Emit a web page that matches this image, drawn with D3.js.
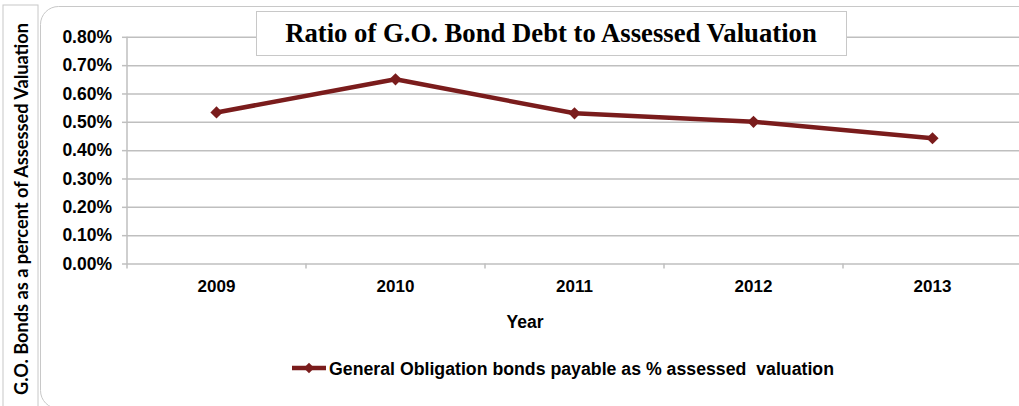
<!DOCTYPE html>
<html>
<head>
<meta charset="utf-8">
<script src="https://cdn.jsdelivr.net/npm/d3@7"></script>
<style>
  body { margin: 0; background: #fff; }
  svg { display: block; }
</style>
</head>
<body>
<div id="chart"></div>
<script>
const years = ["2009", "2010", "2011", "2012", "2013"];
const ratios = [0.00533, 0.0065, 0.0053, 0.0050, 0.00442];
const yTicks = [0, 0.001, 0.002, 0.003, 0.004, 0.005, 0.006, 0.007, 0.008];
const seriesName = "General Obligation bonds payable as % assessed  valuation";
const chartTitle = "Ratio of G.O. Bond Debt to Assessed Valuation";
const yTitle = "G.O. Bonds as a percent of Assessed Valuation";
const xTitle = "Year";

const W = 1019, H = 406;
const plot = { left: 127, right: 1022, top: 36.8, bottom: 263.5 };
const lineColor = "#7a1c1c";
const gridColor = "#bfbfbf";
const frameColor = "#c8c8c8";

const svg = d3.select("#chart").append("svg")
  .attr("width", W)
  .attr("height", H);

// frames
svg.append("rect")
  .attr("x", 3).attr("y", 5)
  .attr("width", 35).attr("height", 420)
  .attr("fill", "#fff").attr("stroke", frameColor).attr("stroke-width", 1);
svg.append("rect")
  .attr("x", 40.5).attr("y", 6.5)
  .attr("width", 1000).attr("height", 402)
  .attr("rx", 18)
  .attr("fill", "#fff").attr("stroke", frameColor).attr("stroke-width", 1);

const x = d3.scaleBand().domain(years).range([plot.left, plot.right]).padding(0);
const y = d3.scaleLinear().domain([0, 0.008]).range([plot.bottom, plot.top]);

// gridlines + y ticks
const yAxis = svg.append("g")
  .attr("transform", `translate(${plot.left},0)`)
  .call(d3.axisLeft(y).tickValues(yTicks).tickFormat(d3.format(".2%"))
    .tickSize(5).tickPadding(10));
yAxis.select(".domain").remove();
yAxis.selectAll(".tick line")
  .attr("x1", 0).attr("x2", -5)
  .attr("stroke", gridColor).attr("stroke-width", 1.5);
yAxis.selectAll(".tick").append("line")
  .attr("x1", 0).attr("x2", W)
  .attr("stroke", gridColor).attr("stroke-width", 1.5);
yAxis.selectAll(".tick text")
  .attr("x", -15)
  .attr("font-family", "Liberation Sans, Arial, sans-serif")
  .attr("font-weight", "bold")
  .attr("font-size", "17.5px")
  .attr("fill", "#000");

// vertical axis line
svg.append("line")
  .attr("x1", plot.left).attr("x2", plot.left)
  .attr("y1", plot.top).attr("y2", plot.bottom + 5)
  .attr("stroke", gridColor).attr("stroke-width", 1.5);

// x axis: labels centered in bands, ticks at band edges
const xAxis = svg.append("g")
  .attr("transform", `translate(0,${plot.bottom})`)
  .call(d3.axisBottom(x).tickSize(0).tickPadding(16));
xAxis.select(".domain").remove();
xAxis.selectAll(".tick text")
  .attr("font-family", "Liberation Sans, Arial, sans-serif")
  .attr("font-weight", "bold")
  .attr("font-size", "17px")
  .attr("fill", "#000");
svg.append("g").selectAll("line")
  .data(years.slice(1).concat(["end"]))
  .join("line")
  .attr("x1", d => d === "end" ? x.range()[1] : x(d))
  .attr("x2", d => d === "end" ? x.range()[1] : x(d))
  .attr("y1", plot.bottom).attr("y2", plot.bottom + 5)
  .attr("stroke", gridColor).attr("stroke-width", 1.5);

// series line
const pts = years.map((yr, i) => ({ yr, v: ratios[i] }));
svg.append("path")
  .datum(pts)
  .attr("fill", "none")
  .attr("stroke", lineColor)
  .attr("stroke-width", 4.5)
  .attr("stroke-linejoin", "round")
  .attr("d", d3.line().x(d => x(d.yr) + x.bandwidth() / 2).y(d => y(d.v)));
svg.append("g").selectAll("path")
  .data(pts)
  .join("path")
  .attr("transform", d => `translate(${x(d.yr) + x.bandwidth() / 2},${y(d.v)})`)
  .attr("d", d3.symbol().type(d3.symbolDiamond2).size(95))
  .attr("fill", lineColor);

// title box
svg.append("rect")
  .attr("x", 256.5).attr("y", 11.5)
  .attr("width", 590).attr("height", 44)
  .attr("fill", "#fff").attr("stroke", frameColor).attr("stroke-width", 1);
svg.append("text")
  .attr("x", 551).attr("y", 41.5)
  .attr("text-anchor", "middle")
  .attr("font-family", "Liberation Serif, Times New Roman, serif")
  .attr("font-weight", "bold")
  .attr("font-size", "26.7px")
  .attr("fill", "#000")
  .text(chartTitle);

// axis titles
svg.append("text")
  .attr("x", 525).attr("y", 327.5)
  .attr("text-anchor", "middle")
  .attr("font-family", "Liberation Sans, Arial, sans-serif")
  .attr("font-weight", "bold")
  .attr("font-size", "17.5px")
  .attr("fill", "#000")
  .text(xTitle);
svg.append("text")
  .attr("transform", "translate(27.5,395) rotate(-90)")
  .attr("x", 0).attr("y", 0)
  .attr("font-family", "Lato, sans-serif")
  .attr("font-weight", "bold")
  .attr("font-size", "18.5px")
  .attr("textLength", 372)
  .attr("lengthAdjust", "spacingAndGlyphs")
  .attr("fill", "#000")
  .text(yTitle);

// legend
const legend = svg.append("g").attr("transform", "translate(292,368)");
legend.append("line")
  .attr("x1", 0).attr("x2", 34)
  .attr("stroke", lineColor).attr("stroke-width", 4.5);
legend.append("path")
  .attr("transform", "translate(17,0)")
  .attr("d", d3.symbol().type(d3.symbolDiamond2).size(70))
  .attr("fill", lineColor);
legend.append("text")
  .attr("x", 37).attr("y", 6.5)
  .attr("font-family", "Liberation Sans, Arial, sans-serif")
  .attr("font-weight", "bold")
  .attr("font-size", "17.5px")
  .attr("textLength", 505)
  .attr("lengthAdjust", "spacingAndGlyphs")
  .attr("xml:space", "preserve")
  .style("white-space", "pre")
  .attr("fill", "#000")
  .text(seriesName);
</script>
</body>
</html>
